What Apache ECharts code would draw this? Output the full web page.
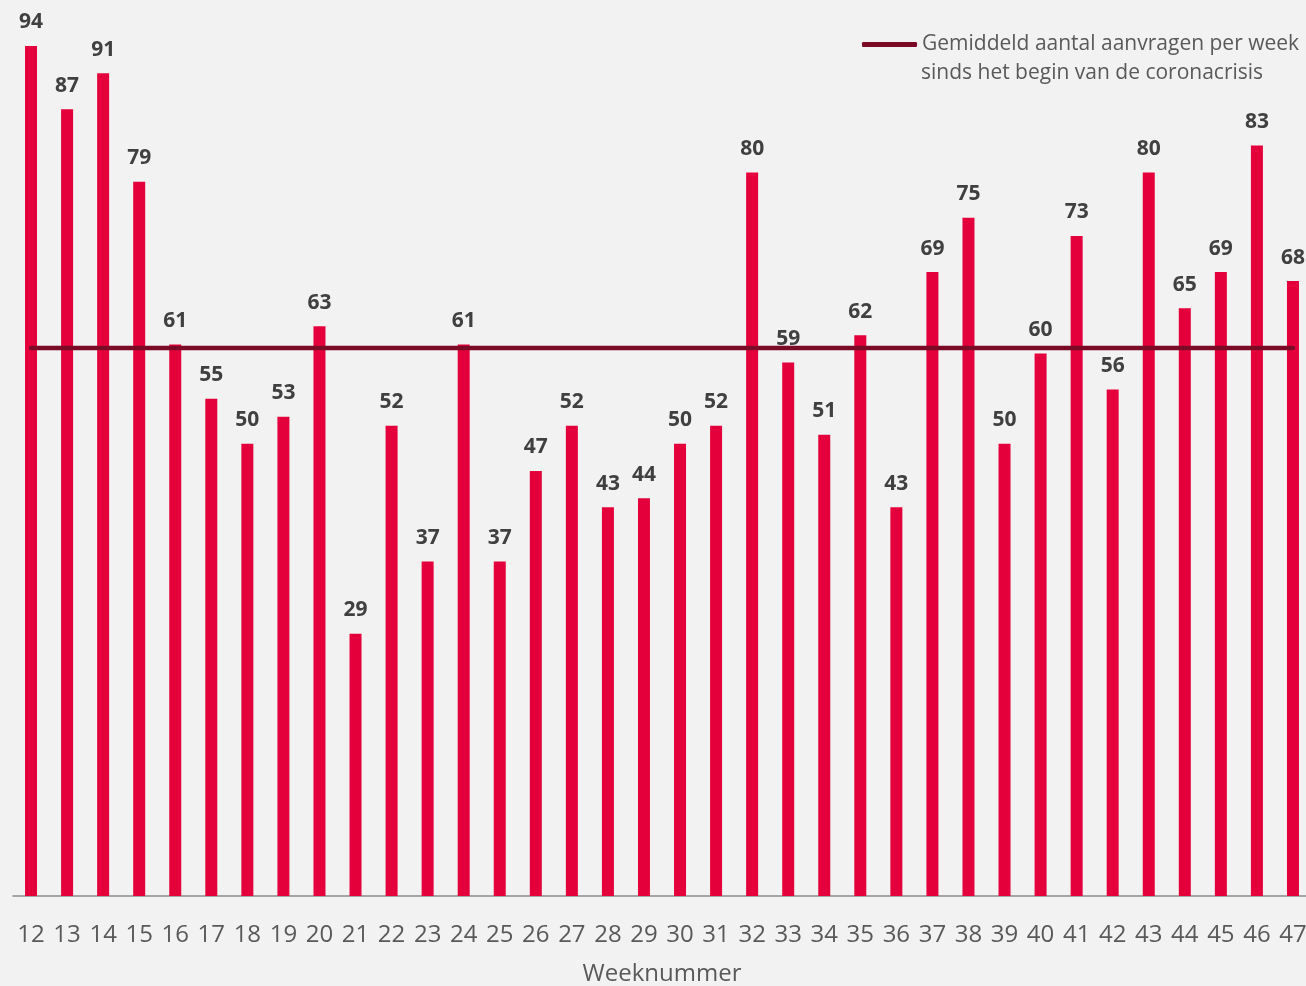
<!DOCTYPE html>
<html>
<head>
<meta charset="utf-8">
<script src="https://cdn.jsdelivr.net/npm/echarts@6/dist/echarts.min.js"></script>
<style>
  html, body { margin: 0; padding: 0; background: #f2f2f2; }
  #chart { width: 1306px; height: 986px; }
</style>
</head>
<body>
<div id="chart"></div>
<script>
const weeks = ['12', '13', '14', '15', '16', '17', '18', '19', '20', '21', '22', '23',
  '24', '25', '26', '27', '28', '29', '30', '31', '32', '33', '34', '35',
  '36', '37', '38', '39', '40', '41', '42', '43', '44', '45', '46', '47'];
const aanvragen = [94, 87, 91, 79, 61, 55, 50, 53, 63, 29, 52, 37,
  61, 37, 47, 52, 43, 44, 50, 52, 80, 59, 51, 62,
  43, 69, 75, 50, 60, 73, 56, 80, 65, 69, 83, 68];
const gemiddeld = 60.6;
const gemiddeldLijn = weeks.map(() => gemiddeld);

const legendLine1 = 'Gemiddeld aantal aanvragen per week';
const legendLine2 = 'sinds het begin van de coronacrisis';

const font = '"Open Sans", "Liberation Sans", sans-serif';
const chart = echarts.init(document.getElementById('chart'));

chart.setOption({
  backgroundColor: '#f2f2f2',
  animation: false,
  textStyle: { fontFamily: font },
  title: {
    text: legendLine2,
    left: 921,
    top: 63,
    padding: 0,
    textStyle: { fontFamily: font, fontSize: 21, fontWeight: 'normal', color: '#595959' }
  },
  legend: {
    left: 862,
    top: 34,
    padding: 0,
    icon: 'roundRect',
    itemWidth: 55,
    itemHeight: 5,
    data: [legendLine1],
    textStyle: { fontFamily: font, fontSize: 21, color: '#595959' }
  },
  grid: { left: 13, width: 1298, top: 46, bottom: 90, outerBoundsMode: 'none' },
  xAxis: {
    type: 'category',
    data: weeks,
    name: 'Weeknummer',
    nameLocation: 'middle',
    nameGap: 66,
    nameTextStyle: { fontFamily: font, fontSize: 24, color: '#595959' },
    axisLine: { lineStyle: { color: '#8c8c8c', width: 1.5 } },
    axisTick: { show: false },
    axisLabel: { margin: 27, fontSize: 24, color: '#595959', fontFamily: font, interval: 0 }
  },
  yAxis: {
    type: 'value',
    min: 0,
    max: 94,
    show: false,
    splitLine: { show: false }
  },
  series: [
    {
      name: 'Aanvragen',
      type: 'bar',
      data: aanvragen,
      barWidth: 12,
      itemStyle: { color: '#e4003a' },
      label: {
        show: true,
        position: 'top',
        distance: 13,
        fontFamily: font,
        fontSize: 21,
        fontWeight: 'bold',
        color: '#404040'
      }
    },
    {
      name: legendLine1,
      type: 'line',
      data: gemiddeldLijn,
      symbol: 'none',
      z: 5,
      itemStyle: { color: '#7b0a26' },
      lineStyle: { color: '#7b0a26', width: 4.5, cap: 'round' }
    }
  ]
});
</script>
</body>
</html>
